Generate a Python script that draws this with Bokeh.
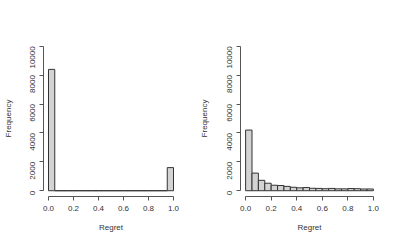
import math
from bokeh.plotting import figure
from bokeh.layouts import row
from bokeh.models import Range1d, FixedTicker
from bokeh.embed import file_html
from bokeh.resources import INLINE

bin_edges = [i * 0.05 for i in range(21)]
left_counts = [8400] + [0] * 18 + [1600]
right_counts = [4200, 1220, 720, 520, 380, 360, 300, 240, 200, 220,
                170, 160, 140, 160, 130, 130, 150, 140, 120, 120]
x_ticks = [0.0, 0.2, 0.4, 0.6, 0.8, 1.0]
x_tick_labels = ["0.0", "0.2", "0.4", "0.6", "0.8", "1.0"]
y_ticks = [0, 2000, 4000, 6000, 8000, 10000]
y_tick_labels = ["0", "2000", "4000", "6000", "8000", "10000"]

FONT = "Liberation Sans"
AXC = "#555555"


def panel(counts, border_left, border_right, ylab_standoff):
    p = figure(width=192, height=234, output_backend="svg", toolbar_location=None,
               x_range=Range1d(-0.04, 1.04), y_range=Range1d(-400, 10400),
               min_border_left=border_left, min_border_right=border_right,
               min_border_top=40, min_border_bottom=36)
    p.outline_line_color = None
    p.grid.visible = False
    p.background_fill_color = "white"
    p.border_fill_color = "white"
    p.quad(left=bin_edges[:-1], right=bin_edges[1:], bottom=[0] * len(counts), top=counts,
           fill_color="#D3D3D3", line_color="#333333", line_width=1)
    xa = p.xaxis[0]
    ya = p.yaxis[0]
    xa.ticker = FixedTicker(ticks=x_ticks)
    ya.ticker = FixedTicker(ticks=y_ticks)
    xa.major_label_overrides = {t: l for t, l in zip(x_ticks, x_tick_labels)}
    ya.major_label_overrides = {t: l for t, l in zip(y_ticks, y_tick_labels)}
    xa.bounds = (0, 1)
    ya.bounds = (0, 10000)
    for ax in (xa, ya):
        ax.axis_line_color = AXC
        ax.major_tick_line_color = AXC
        ax.minor_tick_line_color = None
        ax.major_tick_out = 4
        ax.major_tick_in = 0
        ax.major_label_text_font = FONT
        ax.major_label_text_font_size = "8px"
        ax.major_label_text_color = "#333333"
        ax.axis_label_text_font = FONT
        ax.axis_label_text_font_size = "8px"
        ax.axis_label_text_font_style = "normal"
        ax.axis_label_text_color = "#333333"
    xa.axis_label = "Regret"
    ya.axis_label = "Frequency"
    ya.major_label_orientation = math.pi / 2
    xa.major_label_standoff = 5
    xa.axis_label_standoff = 9
    ya.major_label_standoff = 7
    ya.axis_label_standoff = ylab_standoff
    return p


p1 = panel(left_counts, 40, 14, 12)
p2 = panel(right_counts, 48, 6, 13)
layout = row(p1, p2)
open("out.html", "w").write(file_html(layout, INLINE))
